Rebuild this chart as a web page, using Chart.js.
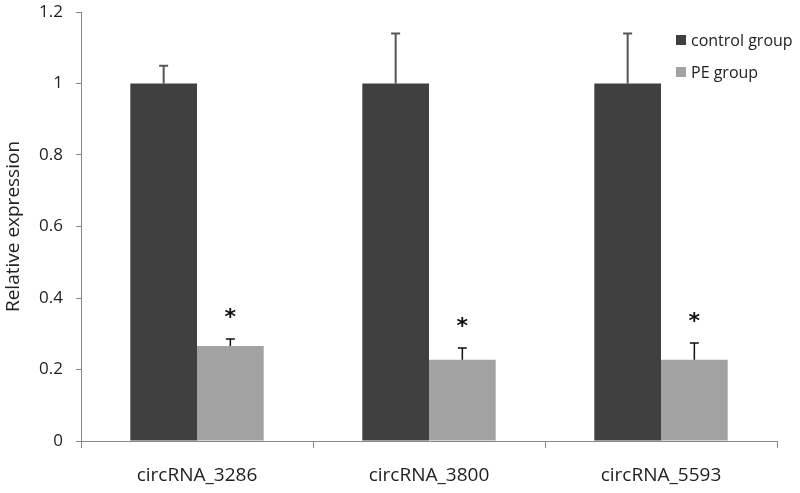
<!DOCTYPE html>
<html>
<head>
<meta charset="utf-8">
<script src="https://cdn.jsdelivr.net/npm/chart.js@4/dist/chart.umd.min.js"></script>
<style>
  html, body { margin: 0; padding: 0; background: #fff; }
  #wrap { position: relative; width: 800px; height: 493px; }
  #legend { position: absolute; left: 676px; top: 28px; font-family: "Open Sans", Lato, sans-serif; font-size: 16px; color: #222; }
  #legend .row { display: flex; align-items: center; height: 24px; margin-bottom: 8px; white-space: nowrap; }
  #legend .sw { width: 10px; height: 10px; margin-right: 5px; }
</style>
</head>
<body>
<div id="wrap">
  <canvas id="c" width="800" height="493"></canvas>
  <div id="legend"></div>
</div>
<script>
const categories = ["circRNA_3286", "circRNA_3800", "circRNA_5593"];
const seriesNames = ["control group", "PE group"];
const controlValues = [1.0, 1.0, 1.0];
const controlErrors = [0.05, 0.14, 0.14];
const peValues = [0.266, 0.227, 0.227];
const peErrors = [0.019, 0.033, 0.047];
const significant = [true, true, true];
const yTicks = [0, 0.2, 0.4, 0.6, 0.8, 1, 1.2];

const colors = ["#404040", "#a2a2a2"];
const errColors = ["#555555", "#111111"];
const errWidths = [2, 1.5];
const errorSets = [controlErrors, peErrors];
const FONT = "'Open Sans'";

const errorBarPlugin = {
  id: "errorBars",
  afterDatasetsDraw(chart) {
    const ctx = chart.ctx;
    const yScale = chart.scales.y;
    chart.data.datasets.forEach((ds, di) => {
      const meta = chart.getDatasetMeta(di);
      meta.data.forEach((bar, i) => {
        const v = ds.data[i];
        const e = errorSets[di][i];
        const yTop = yScale.getPixelForValue(v + e);
        ctx.save();
        ctx.strokeStyle = errColors[di];
        ctx.lineWidth = errWidths[di];
        ctx.beginPath();
        ctx.moveTo(bar.x, bar.y);
        ctx.lineTo(bar.x, yTop);
        ctx.moveTo(bar.x - 4.5, yTop);
        ctx.lineTo(bar.x + 4.5, yTop);
        ctx.stroke();
        if (di === 1 && significant[i]) {
          ctx.fillStyle = "#111";
          ctx.font = "bold 22px 'DejaVu Sans'";
          ctx.textAlign = "center";
          ctx.textBaseline = "middle";
          ctx.fillText("*", bar.x, yTop - 21);
        }
        ctx.restore();
      });
    });
  }
};

const ctx = document.getElementById("c").getContext("2d");
const chart = new Chart(ctx, {
  type: "bar",
  data: {
    labels: categories,
    datasets: [
      { label: seriesNames[0], data: controlValues, backgroundColor: colors[0], borderWidth: 0 },
      { label: seriesNames[1], data: peValues, backgroundColor: colors[1], borderWidth: 0 }
    ]
  },
  options: {
    responsive: false,
    animation: false,
    layout: { padding: { top: 12, right: 23, left: 0, bottom: 0 } },
    datasets: { bar: { categoryPercentage: 0.575, barPercentage: 1.0 } },
    plugins: { legend: { display: false }, tooltip: { enabled: false } },
    scales: {
      x: {
        grid: { display: true, drawOnChartArea: false, offset: true, tickLength: 7, color: "#888", lineWidth: 1 },
        border: { display: true, color: "#888", width: 1 },
        ticks: { color: "#222", font: { family: FONT, size: 19 }, padding: 16 },
        afterFit(scale) { scale.height = 52; }
      },
      y: {
        min: 0, max: 1.2,
        afterBuildTicks(scale) { scale.ticks = yTicks.map(v => ({ value: v })); },
        grid: { display: true, drawOnChartArea: false, tickLength: 5, color: "#888", lineWidth: 1 },
        border: { display: true, color: "#888", width: 1 },
        ticks: { color: "#222", font: { family: FONT, size: 17 }, padding: 13, callback: (v) => String(v) },
        title: { display: true, text: "Relative expression", color: "#222", font: { family: FONT, size: 19 }, padding: { top: 2, bottom: 0 } },
        afterFit(scale) { scale.width = 81; scale.paddingTop = 0; scale.paddingBottom = 0; }
      }
    }
  },
  plugins: [errorBarPlugin]
});

const legendEl = document.getElementById("legend");
seriesNames.forEach((name, i) => {
  const row = document.createElement("div");
  row.className = "row";
  const sw = document.createElement("span");
  sw.className = "sw";
  sw.style.background = colors[i];
  const tx = document.createElement("span");
  tx.textContent = name;
  row.appendChild(sw);
  row.appendChild(tx);
  legendEl.appendChild(row);
});
</script>
</body>
</html>
